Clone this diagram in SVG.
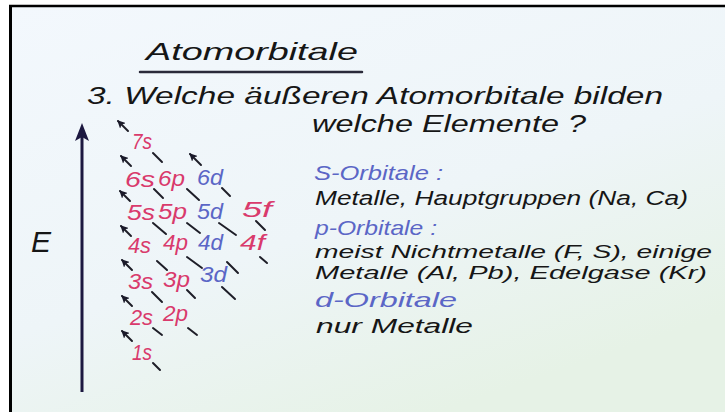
<svg xmlns="http://www.w3.org/2000/svg" width="725" height="412" viewBox="0 0 725 412">
  <defs>
    <linearGradient id="bg" x1="0" y1="0" x2="0.6" y2="1">
      <stop offset="0" stop-color="#f3f8fd"/>
      <stop offset="0.6" stop-color="#eef5f8"/>
      <stop offset="1" stop-color="#e6f2e6"/>
    </linearGradient>
    <marker id="ah" viewBox="0 0 8 8" refX="7" refY="4" markerWidth="8" markerHeight="8" markerUnits="userSpaceOnUse" orient="auto">
      <path d="M0,0 L8,4 L0,8 L2,4 z" fill="#1a1a2a"/>
    </marker>
    <style>
      text { font-family: "Liberation Sans", "DejaVu Sans", sans-serif; font-style: italic; }
      .ink { fill: #161616; }
      .pink { fill: #d93a6c; }
      .blue { fill: #5b66c6; }
      .orb { font-size: 22px; }
      .dash { stroke: #1e1e28; stroke-width: 2; stroke-linecap: round; }
      .arr { stroke: #1e1e28; stroke-width: 2; stroke-linecap: round; fill: none; marker-end: url(#ah); }
    </style>
  </defs>

  <rect x="0" y="0" width="725" height="412" fill="#ffffff"/>
  <rect x="10" y="6" width="715" height="406" fill="url(#bg)"/>
  <g id="frame">
    <line x1="10.5" y1="5" x2="10.5" y2="412" stroke="#000" stroke-width="3"/>
    <line x1="9" y1="6" x2="725" y2="6" stroke="#000" stroke-width="2.5"/>
  </g>

  <g id="title">
    <text x="146" y="60" font-size="24" class="ink" textLength="212" lengthAdjust="spacingAndGlyphs">Atomorbitale</text>
    <line x1="140" y1="72" x2="362" y2="72" stroke="#2a2a3a" stroke-width="2.5" stroke-linecap="round"/>
  </g>

  <g id="question">
    <text x="87" y="104" font-size="23" class="ink" textLength="576" lengthAdjust="spacingAndGlyphs">3. Welche äußeren Atomorbitale bilden</text>
    <text x="312" y="132" font-size="23" class="ink" textLength="274" lengthAdjust="spacingAndGlyphs">welche Elemente ?</text>
  </g>

  <g id="energy-axis">
    <line x1="82" y1="392" x2="82" y2="136" stroke="#1c1840" stroke-width="3"/>
    <path d="M82,123 L89,141 L82,137 L75,141 z" fill="#1c1840"/>
    <text x="31" y="252" font-size="30" class="ink">E</text>
  </g>

  <g id="orbitals" class="orb">
    <g id="n7"><text x="132" y="149" class="pink" textLength="20" lengthAdjust="spacingAndGlyphs">7s</text></g>
    <g id="n6">
      <text x="125" y="187" class="pink" textLength="30" lengthAdjust="spacingAndGlyphs">6s</text>
      <text x="158" y="186" class="pink" textLength="27" lengthAdjust="spacingAndGlyphs">6p</text>
      <text x="197" y="185" class="blue" textLength="26" lengthAdjust="spacingAndGlyphs">6d</text>
    </g>
    <g id="n5">
      <text x="127" y="220" class="pink" textLength="28" lengthAdjust="spacingAndGlyphs">5s</text>
      <text x="158" y="219" class="pink" textLength="29" lengthAdjust="spacingAndGlyphs">5p</text>
      <text x="197" y="219" class="blue" textLength="26" lengthAdjust="spacingAndGlyphs">5d</text>
      <text x="242" y="217" class="pink" textLength="30" lengthAdjust="spacingAndGlyphs">5f</text>
    </g>
    <g id="n4">
      <text x="128" y="253" class="pink" textLength="23" lengthAdjust="spacingAndGlyphs">4s</text>
      <text x="163" y="250" class="pink" textLength="25" lengthAdjust="spacingAndGlyphs">4p</text>
      <text x="198" y="250" class="blue" textLength="25" lengthAdjust="spacingAndGlyphs">4d</text>
      <text x="240" y="250" class="pink" textLength="25" lengthAdjust="spacingAndGlyphs">4f</text>
    </g>
    <g id="n3">
      <text x="128" y="289" class="pink" textLength="25" lengthAdjust="spacingAndGlyphs">3s</text>
      <text x="163" y="287" class="pink" textLength="27" lengthAdjust="spacingAndGlyphs">3p</text>
      <text x="200" y="282" class="blue" textLength="27" lengthAdjust="spacingAndGlyphs">3d</text>
    </g>
    <g id="n2">
      <text x="130" y="325" class="pink" textLength="23" lengthAdjust="spacingAndGlyphs">2s</text>
      <text x="163" y="321" class="pink" textLength="25" lengthAdjust="spacingAndGlyphs">2p</text>
    </g>
    <g id="n1"><text x="132" y="360" class="pink" textLength="20" lengthAdjust="spacingAndGlyphs">1s</text></g>
  </g>

  <g id="connectors">
    <line class="dash" x1="153" y1="153" x2="162" y2="162"/>
    <line class="dash" x1="154" y1="189" x2="163" y2="198"/>
    <line class="dash" x1="187" y1="189" x2="199" y2="200"/>
    <line class="dash" x1="222" y1="188" x2="230" y2="196"/>
    <line class="dash" x1="153" y1="223" x2="166" y2="234"/>
    <line class="dash" x1="187" y1="223" x2="200" y2="233"/>
    <line class="dash" x1="219" y1="223" x2="236" y2="235"/>
    <line class="dash" x1="256" y1="221" x2="265" y2="230"/>
    <line class="dash" x1="157" y1="261" x2="167" y2="270"/>
    <line class="dash" x1="187" y1="257" x2="202" y2="268"/>
    <line class="dash" x1="227" y1="262" x2="238" y2="273"/>
    <line class="dash" x1="260" y1="257" x2="267" y2="263"/>
    <line class="dash" x1="152" y1="292" x2="162" y2="302"/>
    <line class="dash" x1="187" y1="290" x2="195" y2="298"/>
    <line class="dash" x1="222" y1="287" x2="235" y2="299"/>
    <line class="dash" x1="153" y1="328" x2="162" y2="335"/>
    <line class="dash" x1="188" y1="328" x2="197" y2="335"/>
    <line class="dash" x1="153" y1="363" x2="160" y2="370"/>
    <path class="arr" d="M128,131 L118,121"/>
    <path class="arr" d="M131,166 L121,156"/>
    <path class="arr" d="M130,201 L120,191"/>
    <path class="arr" d="M131,236 L121,226"/>
    <path class="arr" d="M132,270 L122,260"/>
    <path class="arr" d="M132,306 L122,296"/>
    <path class="arr" d="M132,341 L122,331"/>
    <path class="arr" d="M201,165 L190,154"/>
  </g>

  <g id="legend">
    <text x="314" y="180" font-size="21" class="blue" textLength="129" lengthAdjust="spacingAndGlyphs">S-Orbitale :</text>
    <text x="315" y="205" font-size="20" class="ink" textLength="373" lengthAdjust="spacingAndGlyphs">Metalle, Hauptgruppen (Na, Ca)</text>
    <text x="315" y="235" font-size="21" class="blue" textLength="122" lengthAdjust="spacingAndGlyphs">p-Orbitale :</text>
    <text x="315" y="258" font-size="18.5" class="ink" textLength="397" lengthAdjust="spacingAndGlyphs">meist Nichtmetalle (F, S), einige</text>
    <text x="315" y="279" font-size="18.5" class="ink" textLength="392" lengthAdjust="spacingAndGlyphs">Metalle (Al, Pb), Edelgase (Kr)</text>
    <text x="315" y="307" font-size="21" class="blue" textLength="142" lengthAdjust="spacingAndGlyphs">d-Orbitale</text>
    <text x="316" y="333" font-size="20" class="ink" textLength="157" lengthAdjust="spacingAndGlyphs">nur Metalle</text>
  </g>
</svg>
